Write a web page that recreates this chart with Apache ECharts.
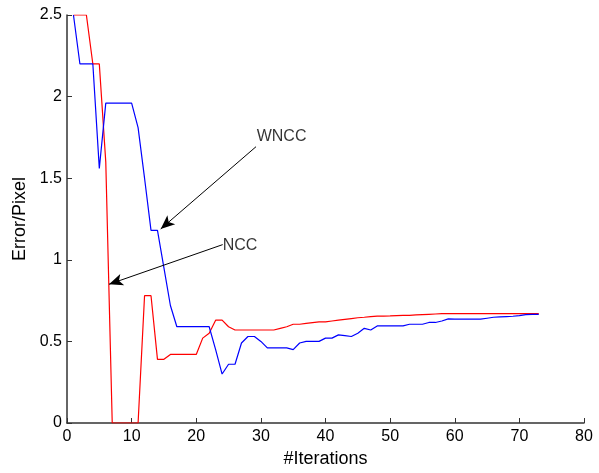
<!DOCTYPE html>
<html>
<head>
<meta charset="utf-8">
<script src="https://cdn.jsdelivr.net/npm/echarts@6/dist/echarts.min.js"></script>
<style>
html,body{margin:0;padding:0;background:#fff;}
#chart{width:599px;height:473px;}
</style>
</head>
<body>
<div id="chart"></div>
<script>
var iterations = [];
for (var i = 1; i <= 73; i++) iterations.push(i);

var nccValues = [2.5, 2.5, 2.5, 2.2, 2.2, 1.6, 0, 0, 0, 0,
  0, 0.78, 0.78, 0.39, 0.39, 0.42, 0.42, 0.42, 0.42, 0.42,
  0.52, 0.55, 0.63, 0.63, 0.59, 0.57, 0.57, 0.57, 0.57, 0.57,
  0.57, 0.57, 0.58, 0.59, 0.605, 0.605, 0.61, 0.615, 0.62, 0.62,
  0.625, 0.63, 0.635, 0.64, 0.645, 0.648, 0.652, 0.655, 0.655, 0.656,
  0.658, 0.66, 0.66, 0.662, 0.664, 0.666, 0.668, 0.67, 0.67, 0.67,
  0.67, 0.67, 0.67, 0.67, 0.67, 0.67, 0.67, 0.67, 0.67, 0.67,
  0.67, 0.67, 0.67];

var wnccValues = [2.5, 2.2, 2.2, 2.2, 1.56, 1.96, 1.96, 1.96, 1.96, 1.96,
  1.81, 1.5, 1.18, 1.18, 0.95, 0.72, 0.59, 0.59, 0.59, 0.59,
  0.59, 0.59, 0.45, 0.30, 0.36, 0.36, 0.49, 0.53, 0.53, 0.50,
  0.46, 0.46, 0.46, 0.46, 0.45, 0.49, 0.50, 0.50, 0.50, 0.52,
  0.52, 0.54, 0.535, 0.53, 0.55, 0.58, 0.57, 0.595, 0.595, 0.595,
  0.595, 0.595, 0.605, 0.605, 0.605, 0.616, 0.616, 0.625, 0.638, 0.636,
  0.636, 0.636, 0.636, 0.636, 0.642, 0.648, 0.65, 0.652, 0.654, 0.658,
  0.664, 0.665, 0.665];

var xTicks = [0, 10, 20, 30, 40, 50, 60, 70, 80];
var yTicks = [0, 0.5, 1, 1.5, 2, 2.5];

var annotationLabels = ['WNCC', 'NCC'];
var annotationTextPos = [[29.35, 1.754], [24.09, 1.088]];
var arrowTails = [[29.25, 1.693], [24.09, 1.093]];
var arrowTips = [[14.5, 1.189], [6.5, 0.85]];

function pairs(xs, ys) { return xs.map(function (x, k) { return [x, ys[k]]; }); }

var font = 'Liberation Sans, Arial, Helvetica, sans-serif';
var chart = echarts.init(document.getElementById('chart'), null, {renderer: 'canvas'});
chart.setOption({
  animation: false,
  backgroundColor: '#fff',
  grid: {left: 67, right: 15, top: 15, bottom: 48, containLabel: false},
  xAxis: {
    type: 'value', min: xTicks[0], max: xTicks[xTicks.length - 1], interval: xTicks[1] - xTicks[0],
    name: '#Iterations', nameLocation: 'middle', nameGap: 27,
    nameTextStyle: {fontFamily: font, fontSize: 18, color: '#000'},
    axisLine: {show: true, onZero: false, lineStyle: {color: '#333', width: 1.5}},
    axisTick: {show: true, inside: true, length: 5, lineStyle: {color: '#333'}},
    axisLabel: {fontFamily: font, fontSize: 16, color: '#000', margin: 6},
    splitLine: {show: false}
  },
  yAxis: {
    type: 'value', min: yTicks[0], max: yTicks[yTicks.length - 1], interval: yTicks[1] - yTicks[0],
    name: 'Error/Pixel', nameLocation: 'middle', nameGap: 34, nameRotate: 90,
    nameTextStyle: {fontFamily: font, fontSize: 18, color: '#000'},
    axisLine: {show: true, onZero: false, lineStyle: {color: '#333', width: 1.5}},
    axisTick: {show: true, inside: true, length: 5, lineStyle: {color: '#333'}},
    axisLabel: {fontFamily: font, fontSize: 16, color: '#000', margin: 5},
    splitLine: {show: false}
  },
  series: [
    {
      name: 'NCC', type: 'line', data: pairs(iterations, nccValues),
      showSymbol: false, symbol: 'none', lineStyle: {color: '#ff0000', width: 1.2},
      z: 3
    },
    {
      name: 'WNCC', type: 'line', data: pairs(iterations, wnccValues),
      showSymbol: false, symbol: 'none', lineStyle: {color: '#0000ff', width: 1.2},
      z: 4,
      markLine: {
        silent: true, animation: false,
        symbol: ['none', 'arrow'], symbolSize: [9, 14],
        lineStyle: {color: '#000', width: 1, type: 'solid'},
        label: {show: false},
        data: arrowTails.map(function (t, k) {
          return [{coord: t}, {coord: arrowTips[k]}];
        })
      }
    },
    {
      type: 'scatter', symbolSize: 0, silent: true,
      data: annotationTextPos.map(function (p, k) { return {value: p, name: annotationLabels[k]}; }),
      label: {show: true, position: 'right', distance: 0, formatter: '{b}',
        fontFamily: font, fontSize: 16, color: '#000'},
      z: 5
    }
  ]
});
</script>
</body>
</html>
